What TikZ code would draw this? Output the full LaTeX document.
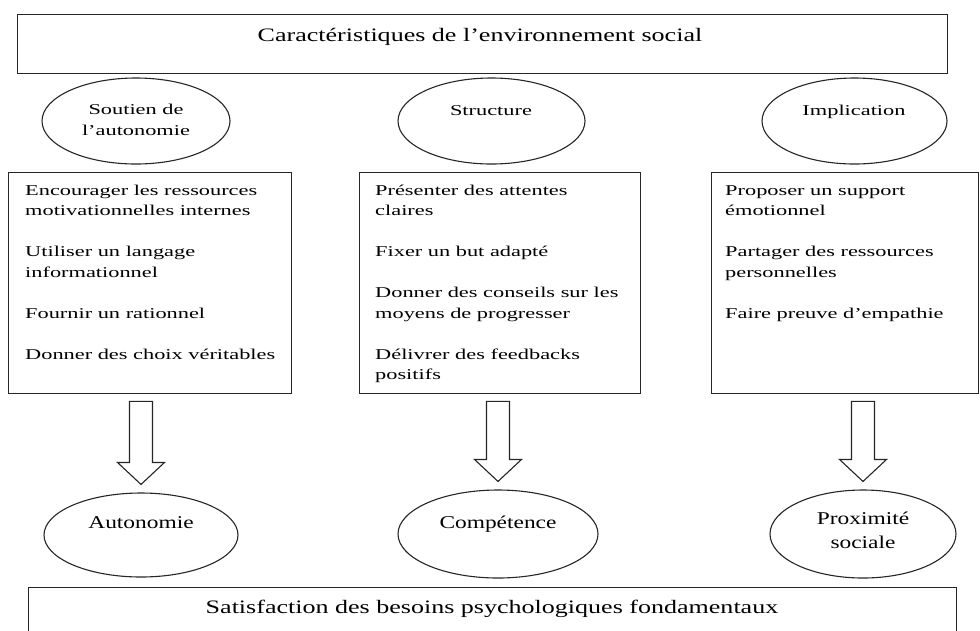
\documentclass[tikz,border=0pt]{standalone}
\usepackage{fontspec}
\setmainfont{Liberation Serif}
\newfontfamily\boxfont[FakeStretch=1.49]{Liberation Serif}
\newfontfamily\bigfont[FakeStretch=1.37]{Liberation Serif}
\newfontfamily\ellfont[FakeStretch=1.3]{Liberation Serif}
\usetikzlibrary{shapes.geometric,calc}
\tikzset{
  frame/.style={draw=black!85, line width=1.3pt, inner sep=0pt, anchor=north west},
  oval/.style={ellipse, draw=black!85, line width=1.1pt, inner sep=0pt},
  boxtext/.style={anchor=base west, inner sep=0pt, font=\boxfont\fontsize{15}{20.5}\selectfont},
  toptext/.style={anchor=base, inner sep=0pt, font=\boxfont\fontsize{15}{21}\selectfont},
  bigtext/.style={anchor=base, inner sep=0pt, font=\bigfont\fontsize{19}{23}\selectfont},
  elltext/.style={anchor=base, inner sep=0pt, font=\ellfont\fontsize{18}{24}\selectfont},
  blockarr/.style={draw=black!85, line width=1.1pt, fill=white, line join=miter}
}
\newcommand\blockarrow[2]{%
  \draw[blockarr] let \p1=(#2.north), \p2=(#1.south) in
   (\x1-11.5pt,\y2-7pt) -- (\x1+11.5pt,\y2-7pt) -- (\x1+11.5pt,\y1+30pt)
   -- (\x1+23.5pt,\y1+30pt) -- (\x1,\y1+8pt) -- (\x1-23.5pt,\y1+30pt)
   -- (\x1-11.5pt,\y1+30pt) -- cycle;}
\begin{document}
\begin{tikzpicture}[x=1pt,y=-1pt]
\useasboundingbox (0,0) rectangle (980,630);
\fill[white] (0,0) rectangle (980,630);

% top box
\node[frame, minimum width=930pt, minimum height=59pt] (top) at (17,14) {};
\node[bigtext] (toplbl) at (480,41) {Caractéristiques de l’environnement social};

% top ellipses
\node[oval, minimum width=188pt, minimum height=86pt] (e1) at (136,121) {};
\node[oval, minimum width=187pt, minimum height=86pt] (e2) at (491.5,121) {};
\node[oval, minimum width=185pt, minimum height=86pt] (e3) at (854.5,121) {};
\node[toptext] (e1t) at (136,114) {\parbox[t]{160pt}{\centering Soutien de\\ l’autonomie}};
\node[toptext] (e2t) at (491,115) {Structure};
\node[toptext] (e3t) at (854,115) {Implication};

% boxes
\node[frame, minimum width=283pt, minimum height=221pt] (b1) at (8,172) {};
\node[frame, minimum width=281pt, minimum height=221pt] (b2) at (359,172) {};
\node[frame, minimum width=267pt, minimum height=221pt] (b3) at (711,172) {};

\node[boxtext] (b1t) at (25,195) {\parbox[t]{270pt}{\raggedright
Encourager les ressources\\ motivationnelles internes\\[20.5pt]
Utiliser un langage\\ informationnel\\[20.5pt]
Fournir un rationnel\\[20.5pt]
Donner des choix véritables}};
\node[boxtext] (b2t) at (375,195) {\parbox[t]{270pt}{\raggedright
Présenter des attentes\\ claires\\[20.5pt]
Fixer un but adapté\\[20.5pt]
Donner des conseils sur les\\ moyens de progresser\\[20.5pt]
Délivrer des feedbacks\\ positifs}};
\node[boxtext] (b3t) at (725,195) {\parbox[t]{250pt}{\raggedright
Proposer un support\\ émotionnel\\[20.5pt]
Partager des ressources\\ personnelles\\[20.5pt]
Faire preuve d’empathie}};

% bottom ellipses
\node[oval, minimum width=194pt, minimum height=84pt] (n1) at (141,535) {};
\node[oval, minimum width=200pt, minimum height=88pt] (n2) at (498,534) {};
\node[oval, minimum width=186pt, minimum height=88pt] (n3) at (863,534) {};
\node[elltext] (n1t) at (141,528) {Autonomie};
\node[elltext] (n2t) at (498,528) {Compétence};
\node[elltext] (n3t) at (863,524) {\parbox[t]{150pt}{\centering Proximité\\ sociale}};

% block arrows
\blockarrow{b1}{n1}
\blockarrow{b2}{n2}
\blockarrow{b3}{n3}

% bottom box (open at the bottom edge)
\node[frame, minimum width=928pt, minimum height=60pt] (bot) at (28,587) {};
\node[bigtext] (botlbl) at (492,613) {Satisfaction des besoins psychologiques fondamentaux};
\end{tikzpicture}
\end{document}
